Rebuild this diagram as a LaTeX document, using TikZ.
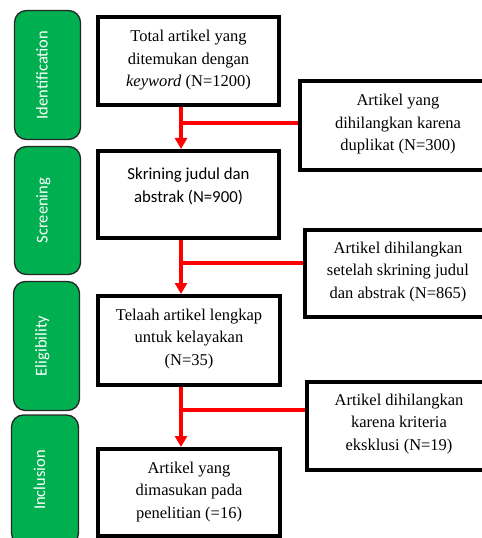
\documentclass[tikz,border=0pt]{standalone}
\usepackage{fontspec}
\setmainfont{Liberation Serif}
\newfontfamily\calib{Carlito}
\usetikzlibrary{arrows.meta}
\definecolor{phasegreen}{RGB}{0,176,80}
\newcommand{\bxt}[4]{\begin{minipage}[c][#2][t]{#1}\centering\rule{0pt}{#3}#4\end{minipage}}
\newcommand{\vlab}[1]{\rotatebox{90}{\raisebox{0pt}[6bp][6bp]{#1}}}
\begin{document}
\begin{tikzpicture}[x=1bp,y=-1bp,
  mainbox/.style={draw=black, line width=4bp, inner sep=0pt, fill=white,
    font=\fontsize{16.5bp}{22.5bp}\selectfont},
  phase/.style={draw=black!85, line width=1.3bp, fill=phasegreen,
    rounded corners=12bp, inner sep=0pt, text=white,
    font=\calib\fontsize{16.5bp}{19bp}\selectfont},
  redline/.style={draw=red, line width=4.5bp},
  redarrow/.style={redline, -{Triangle[width=12bp,length=11bp]}}
]
\useasboundingbox (0,0) rectangle (482,538);

% phase labels
\node[phase, minimum width=66bp, minimum height=129bp] (p1) at (47.5,75) {\vlab{Identification}};
\node[phase, minimum width=66bp, minimum height=128bp] (p2) at (47.5,210.5) {\vlab{Screening}};
\node[phase, minimum width=66bp, minimum height=129bp] (p3) at (46.5,346) {\vlab{Eligibility}};
\node[phase, minimum width=67bp, minimum height=130bp] (p4) at (45,480) {\vlab{Inclusion}};

% main boxes
\node[mainbox] (b1) at (188.5,61) {\bxt{181bp}{88bp}{24.7bp}{Total artikel yang\\ditemukan dengan\\\textit{keyword} (N=1200)}};
\node[mainbox, font=\calib\fontsize{16.8bp}{23bp}\selectfont] (b2) at (188.5,194.5) {\bxt{181bp}{87bp}{29bp}{Skrining judul dan\\abstrak (N=900)}};
\node[mainbox] (b3) at (189,340.5) {\bxt{182bp}{89bp}{24bp}{Telaah artikel lengkap\\untuk kelayakan\\(N=35)}};
\node[mainbox] (b4) at (189,492.5) {\bxt{182bp}{87bp}{24bp}{Artikel yang\\dimasukan pada\\penelitian (=16)}};

% side boxes
\node[mainbox] (s1) at (398,125.5) {\bxt{196bp}{89bp}{25bp}{Artikel yang\\dihilangkan karena\\duplikat (N=300)}};
\node[mainbox] (s2) at (398,273.5) {\bxt{186bp}{87bp}{23bp}{Artikel dihilangkan\\setelah skrining judul\\dan abstrak (N=865)}};
\node[mainbox] (s3) at (399,426) {\bxt{184bp}{88bp}{23bp}{Artikel dihilangkan\\karena kriteria\\eksklusi (N=19)}};

% junctions
\coordinate (j1) at (181,123);
\coordinate (j2) at (181,263);
\coordinate (j3) at (181,410);

% connectors
\draw[redarrow] (j1 |- b1.south) -- (j1 |- b2.north);
\draw[redline] (j1) -- (s1.west |- j1);
\draw[redarrow] (j2 |- b2.south) -- (j2 |- b3.north);
\draw[redline] (j2) -- (s2.west |- j2);
\draw[redarrow] (j3 |- b3.south) -- (j3 |- b4.north);
\draw[redline] (j3) -- (s3.west |- j3);
\end{tikzpicture}
\end{document}
